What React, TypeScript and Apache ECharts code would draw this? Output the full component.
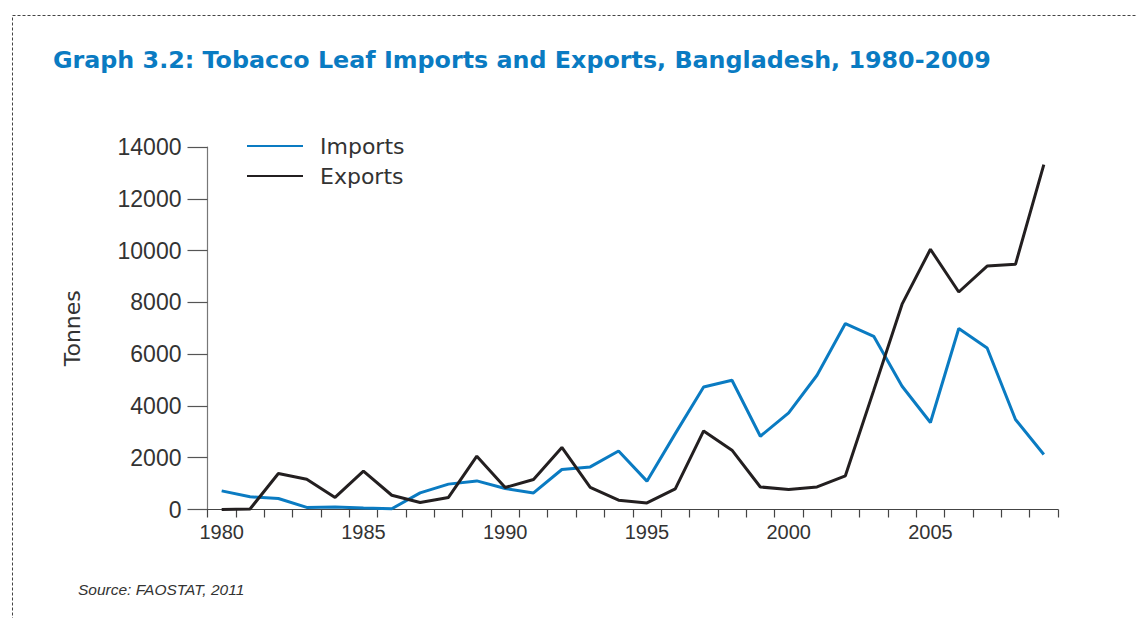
import React, { useEffect, useRef } from "react";
import * as echarts from "echarts";

const years = [
  "1980", "1981", "1982", "1983", "1984", "1985", "1986", "1987", "1988", "1989",
  "1990", "1991", "1992", "1993", "1994", "1995", "1996", "1997", "1998", "1999",
  "2000", "2001", "2002", "2003", "2004", "2005", "2006", "2007", "2008", "2009",
];

const imports = [
  720, 490, 425, 80, 100, 60, 30, 640, 980, 1105,
  810, 640, 1545, 1645, 2260, 1095, 2930, 4730, 4990, 2830,
  3730, 5185, 7180, 6690, 4760, 3360, 6990, 6240, 3475, 2125,
];

const exports_ = [
  0, 20, 1390, 1170, 465, 1480, 550, 270, 465, 2060,
  850, 1160, 2395, 850, 360, 255, 795, 3035, 2290, 870,
  770, 870, 1300, 4600, 7930, 10050, 8400, 9400, 9470, 13320,
];

const yMin = 0;
const yMax = 14000;
const yStep = 2000;

const FONT = "'Liberation Sans', Arial, sans-serif";
const WIDE = "'DejaVu Sans', sans-serif";

export default function App() {
  const ref = useRef<HTMLDivElement>(null);

  useEffect(() => {
    if (!ref.current) return;
    const chart = echarts.init(ref.current, undefined, { renderer: "svg" });
    chart.setOption({
      animation: false,
      backgroundColor: "#ffffff",
      textStyle: { fontFamily: FONT },
      title: {
        text: "Graph 3.2: Tobacco Leaf Imports and Exports, Bangladesh, 1980-2009",
        left: 53,
        top: 48,
        padding: 0,
        textStyle: {
          color: "#0a7bc2",
          fontSize: 23.8,
          fontWeight: "bold",
          fontFamily: WIDE,
        },
      },
      legend: {
        orient: "vertical",
        left: 247,
        top: 135,
        padding: 0,
        itemWidth: 56,
        itemHeight: 14,
        itemGap: 8,
        icon: "path://M0,6 L56,6 L56,8 L0,8 Z",
        textStyle: {
          fontSize: 22,
          color: "#333333",
          fontFamily: WIDE,
          padding: [0, 0, 0, 12],
        },
        data: ["Imports", "Exports"],
      },
      grid: {
        left: 207.5,
        right: 79,
        top: 147,
        bottom: 108.5,
        containLabel: false,
      },
      xAxis: {
        type: "category",
        data: years,
        boundaryGap: true,
        axisLine: { show: true, lineStyle: { color: "#444444", width: 1.2 } },
        axisTick: {
          show: true,
          alignWithLabel: false,
          interval: 0,
          length: 8,
          lineStyle: { color: "#444444", width: 1.2 },
        },
        axisLabel: {
          interval: 4,
          margin: 12,
          fontSize: 20,
          color: "#333333",
          fontFamily: FONT,
        },
        splitLine: { show: false },
      },
      yAxis: {
        type: "value",
        min: yMin,
        max: yMax,
        interval: yStep,
        name: "Tonnes",
        nameLocation: "middle",
        nameRotate: 90,
        nameGap: 124,
        nameTextStyle: { fontSize: 22, color: "#333333", fontFamily: WIDE },
        axisLine: { show: true, lineStyle: { color: "#777777", width: 1.2 } },
        axisTick: {
          show: true,
          inside: false,
          length: 20,
          lineStyle: { color: "#555555", width: 1.2 },
        },
        axisLabel: {
          margin: 26,
          fontSize: 23,
          color: "#333333",
          fontFamily: FONT,
          formatter: (v: number) => String(v),
        },
        splitLine: { show: false },
      },
      series: [
        {
          name: "Imports",
          type: "line",
          data: imports,
          symbol: "none",
          lineStyle: { color: "#0a7bc2", width: 3 },
          itemStyle: { color: "#0a7bc2" },
        },
        {
          name: "Exports",
          type: "line",
          data: exports_,
          symbol: "none",
          lineStyle: { color: "#231f20", width: 3 },
          itemStyle: { color: "#231f20" },
        },
      ],
      graphic: [
        {
          type: "rect",
          shape: { x: 12.5, y: 15.5, width: 1300, height: 800 },
          style: { fill: "none", stroke: "#444444", lineWidth: 1, lineDash: [3, 2] },
          silent: true,
        },
        {
          type: "text",
          left: 78,
          top: 581,
          style: {
            text: "Source: FAOSTAT, 2011",
            fontSize: 15.5,
            fontStyle: "italic",
            fill: "#333333",
            fontFamily: FONT,
          },
        },
      ],
    });
    return () => chart.dispose();
  }, []);

  return (
    <div
      ref={ref}
      style={{ position: "absolute", left: 0, top: 0, width: 1137, height: 618 }}
    />
  );
}
